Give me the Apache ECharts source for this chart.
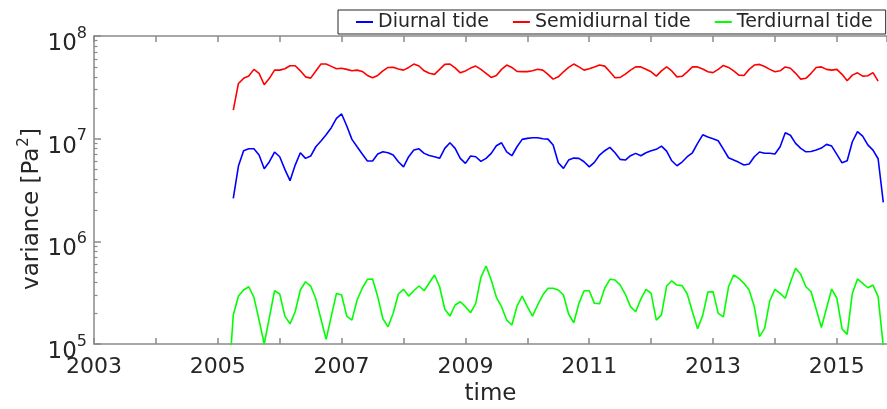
<!DOCTYPE html>
<html>
<head>
<meta charset="utf-8">
<script src="https://cdn.jsdelivr.net/npm/echarts@6/dist/echarts.min.js"></script>
<style>
  html, body { margin: 0; padding: 0; background: #ffffff; }
  #chart { width: 887px; height: 409px; }
</style>
</head>
<body>
<div id="chart"></div>
<script>
// Monthly tidal variance (Pa^2), one value per month.
const seriesNames = ['Diurnal tide', 'Semidiurnal tide', 'Terdiurnal tide'];
const startYear = 2005;
const diurnalStartMonth = 4;      // April 2005
const semidiurnalStartMonth = 4;  // April 2005
const terdiurnalStartMonth = 3;   // March 2005

const diurnal = [
  2.62e6, 5.41e6, 7.63e6, 7.97e6, 7.97e6, 6.92e6, 5.09e6, 5.96e6, 7.41e6, 6.67e6,
  5.02e6, 3.9e6, 5.53e6, 7.29e6, 6.43e6, 6.77e6, 8.34e6, 9.48e6, 1.09e7, 1.28e7,
  1.58e7, 1.74e7, 1.33e7, 9.84e6, 8.34e6, 7.08e6, 6.05e6, 6.05e6, 7.08e6, 7.45e6,
  7.29e6, 6.92e6, 5.96e6, 5.32e6, 6.67e6, 7.74e6, 7.97e6, 7.19e6, 6.85e6, 6.67e6,
  6.43e6, 8.05e6, 9.12e6, 8.05e6, 6.43e6, 5.75e6, 6.77e6, 6.67e6, 6.01e6, 6.43e6,
  7.19e6, 8.53e6, 9.12e6, 7.45e6, 6.82e6, 8.34e6, 9.84e6, 1.007e7, 1.02e7, 1.02e7,
  9.98e6, 9.9e6, 8.66e6, 5.82e6, 5.14e6, 6.19e6, 6.47e6, 6.43e6, 5.96e6, 5.32e6,
  5.88e6, 6.92e6, 7.63e6, 8.23e6, 7.29e6, 6.28e6, 6.19e6, 6.82e6, 7.19e6, 6.82e6,
  7.3e6, 7.63e6, 7.87e6, 8.47e6, 7.57e6, 6.09e6, 5.45e6, 5.92e6, 6.67e6, 7.29e6,
  9.0e6, 1.09e7, 1.04e7, 9.98e6, 9.54e6, 7.92e6, 6.52e6, 6.19e6, 5.88e6, 5.53e6,
  5.66e6, 6.67e6, 7.41e6, 7.2e6, 7.2e6, 7.08e6, 8.34e6, 1.14e7, 1.08e7, 9.0e6,
  8.05e6, 7.45e6, 7.5e6, 7.74e6, 8.1e6, 8.8e6, 8.47e6, 7.03e6, 5.82e6, 6.09e6,
  9.33e6, 1.17e7, 1.06e7, 8.7e6, 7.74e6, 6.37e6, 2.4e6
];

const semidiurnal = [
  1.9e7, 3.45e7, 3.87e7, 4.07e7, 4.73e7, 4.33e7, 3.35e7, 3.87e7, 4.65e7, 4.65e7,
  4.8e7, 5.13e7, 5.13e7, 4.58e7, 4.0e7, 3.89e7, 4.57e7, 5.33e7, 5.33e7, 5.06e7,
  4.8e7, 4.85e7, 4.73e7, 4.58e7, 4.65e7, 4.52e7, 4.13e7, 3.92e7, 4.13e7, 4.57e7,
  4.94e7, 4.97e7, 4.77e7, 4.65e7, 4.94e7, 5.33e7, 5.1e7, 4.58e7, 4.33e7, 4.23e7,
  4.73e7, 5.29e7, 5.33e7, 4.9e7, 4.38e7, 4.57e7, 4.87e7, 5.09e7, 4.73e7, 4.33e7,
  3.95e7, 4.13e7, 4.73e7, 5.21e7, 4.94e7, 4.52e7, 4.5e7, 4.5e7, 4.58e7, 4.75e7,
  4.65e7, 4.23e7, 3.8e7, 4.0e7, 4.48e7, 4.94e7, 5.33e7, 5.0e7, 4.65e7, 4.8e7,
  5.0e7, 5.21e7, 5.09e7, 4.48e7, 3.92e7, 3.95e7, 4.26e7, 4.65e7, 5.0e7, 5.0e7,
  4.75e7, 4.48e7, 4.07e7, 4.58e7, 5.0e7, 4.57e7, 4.0e7, 4.05e7, 4.48e7, 5.0e7,
  5.0e7, 4.77e7, 4.48e7, 4.4e7, 4.73e7, 5.17e7, 4.94e7, 4.57e7, 4.16e7, 4.13e7,
  4.73e7, 5.21e7, 5.29e7, 5.05e7, 4.73e7, 4.48e7, 4.58e7, 5.0e7, 4.85e7, 4.33e7,
  3.8e7, 3.87e7, 4.33e7, 4.94e7, 5.0e7, 4.73e7, 4.65e7, 4.73e7, 4.23e7, 3.66e7,
  4.16e7, 4.38e7, 4.07e7, 4.1e7, 4.4e7, 3.64e7
];

const terdiurnal = [
  3.5e4,
  1.92e5, 2.93e5, 3.36e5, 3.61e5, 2.85e5, 1.71e5, 1.0e5, 1.82e5, 3.3e5, 3.07e5,
  1.87e5, 1.57e5, 2.06e5, 3.36e5, 4.04e5, 3.67e5, 2.76e5, 1.74e5, 1.11e5, 1.87e5,
  3.11e5, 3.0e5, 1.87e5, 1.71e5, 2.68e5, 3.49e5, 4.27e5, 4.3e5, 2.89e5, 1.76e5,
  1.47e5, 1.99e5, 3.07e5, 3.41e5, 2.93e5, 3.3e5, 3.67e5, 3.3e5, 3.95e5, 4.7e5,
  3.61e5, 2.18e5, 1.87e5, 2.4e5, 2.58e5, 2.31e5, 2.02e5, 2.49e5, 4.46e5, 5.75e5,
  4.2e5, 2.85e5, 2.31e5, 1.71e5, 1.53e5, 2.34e5, 2.93e5, 2.31e5, 1.87e5, 2.4e5,
  3.0e5, 3.49e5, 3.49e5, 3.36e5, 3.0e5, 1.96e5, 1.61e5, 2.49e5, 3.3e5, 3.3e5,
  2.49e5, 2.47e5, 3.49e5, 4.27e5, 4.2e5, 3.75e5, 3.05e5, 2.31e5, 2.06e5, 2.74e5,
  3.41e5, 3.11e5, 1.71e5, 1.92e5, 3.67e5, 4.13e5, 3.75e5, 3.7e5, 3.07e5, 2.06e5,
  1.41e5, 1.9e5, 3.21e5, 3.24e5, 1.99e5, 1.84e5, 3.61e5, 4.7e5, 4.36e5, 3.9e5,
  3.36e5, 2.31e5, 1.18e5, 1.42e5, 2.64e5, 3.41e5, 3.11e5, 2.79e5, 3.99e5, 5.46e5,
  4.77e5, 3.61e5, 3.23e5, 2.18e5, 1.45e5, 2.23e5, 3.43e5, 2.79e5, 1.41e5, 1.24e5,
  3.11e5, 4.3e5, 3.9e5, 3.53e5, 3.75e5, 2.89e5, 9.5e4
];

// Axis ranges and tick values
const xMin = 2003;
const xMax = 2015.81;
const yMin = 1e5;
const yMax = 1e8;
const yDecadeMin = 5;
const yDecadeMax = 8;
// minor ticks at 2..9 x 10^n, expressed as exponents for the tick-only axis
const yMinorTickExponents = [];
for (let e = yDecadeMin; e < yDecadeMax; e++) {
  for (let m = 2; m <= 9; m++) yMinorTickExponents.push(e + Math.log10(m));
}

const lineColors = ['#0000ff', '#ff0000', '#00ff00'];
const axisGrey = '#8a8a8a';
const textDark = '#262626';
const fontFamily = 'DejaVu Sans';

// Monthly values -> [decimal year, value] pairs
function monthly(startMonth, values) {
  return values.map((v, i) => [startYear + (startMonth - 1 + i) / 12, v]);
}

const chart = echarts.init(document.getElementById('chart'), null, { renderer: 'canvas' });

const isOddYear = v => Math.abs(v - Math.round(v)) < 1e-6 && Math.round(v) % 2 === 1;

chart.setOption({
  animation: false,
  backgroundColor: '#ffffff',
  textStyle: { fontFamily: fontFamily },
  grid: {
    left: 94, top: 36, right: 0, bottom: 65,
    containLabel: false,
    outerBoundsMode: 'none'
  },
  legend: {
    data: seriesNames,
    left: 338,
    top: 10,
    icon: 'rect',
    itemWidth: 17,
    itemHeight: 2,
    itemGap: 24,
    padding: [2.5, 13, 2.5, 18],
    borderColor: textDark,
    borderWidth: 1,
    backgroundColor: '#ffffff',
    textStyle: { fontFamily: fontFamily, fontSize: 19, color: textDark }
  },
  xAxis: [
    {
      type: 'value',
      min: xMin,
      max: xMax,
      interval: 1,
      name: 'time',
      nameLocation: 'middle',
      nameGap: 36,
      nameTextStyle: { fontFamily: fontFamily, fontSize: 23, color: textDark },
      axisLine: { show: true, lineStyle: { color: axisGrey, width: 1.5 } },
      axisTick: { show: true, inside: true, length: 6, lineStyle: { color: axisGrey, width: 1.5 } },
      axisLabel: {
        show: true,
        margin: 12,
        fontFamily: fontFamily,
        fontSize: 22,
        color: textDark,
        showMaxLabel: false,
        formatter: v => (isOddYear(v) ? String(Math.round(v)) : '')
      },
      splitLine: { show: false }
    },
    {
      type: 'value',
      position: 'top',
      min: xMin,
      max: xMax,
      interval: 1,
      axisLine: { show: true, lineStyle: { color: axisGrey, width: 1.5 } },
      axisTick: { show: true, inside: true, length: 6, lineStyle: { color: axisGrey, width: 1.5 } },
      axisLabel: { show: false },
      splitLine: { show: false }
    }
  ],
  yAxis: [
    {
      type: 'log',
      logBase: 10,
      min: yMin,
      max: yMax,
      position: 'left',
      name: '{a|variance [Pa}{s|2}{a|]}',
      nameLocation: 'middle',
      nameGap: 50,
      nameMoveOverlap: false,
      nameTextStyle: {
        fontFamily: fontFamily,
        color: textDark,
        padding: [0, 38, 0, 0],
        rich: {
          a: { fontFamily: fontFamily, fontSize: 23, color: textDark, verticalAlign: 'bottom', lineHeight: 23 },
          s: { fontFamily: fontFamily, fontSize: 15, color: textDark, verticalAlign: 'bottom', lineHeight: 15, padding: [0, 0, 12, 1] }
        }
      },
      axisLine: { show: true, lineStyle: { color: axisGrey, width: 1.5 } },
      axisTick: { show: true, inside: true, length: 7, lineStyle: { color: axisGrey, width: 1.5 } },
      axisLabel: {
        show: true,
        margin: 7,
        padding: [16, 0, 0, 0],
        formatter: v => '{b|10}{s|' + Math.round(Math.log10(v)) + '}',
        rich: {
          b: { fontFamily: fontFamily, fontSize: 23, color: textDark, verticalAlign: 'bottom', lineHeight: 23 },
          s: { fontFamily: fontFamily, fontSize: 16, color: textDark, verticalAlign: 'bottom', lineHeight: 16, padding: [0, 0, 14, 0] }
        }
      },
      splitLine: { show: false }
    },
    {
      // tick-only axis in decade exponents, carrying the log minor ticks
      type: 'value',
      min: yDecadeMin,
      max: yDecadeMax,
      position: 'left',
      offset: 0,
      axisLine: { show: false },
      axisTick: {
        show: true,
        inside: true,
        length: 3.5,
        customValues: yMinorTickExponents,
        lineStyle: { color: axisGrey, width: 1.2 }
      },
      axisLabel: { show: false },
      splitLine: { show: false }
    }
  ],
  series: [
    {
      name: seriesNames[0],
      type: 'line',
      data: monthly(diurnalStartMonth, diurnal),
      symbol: 'none',
      clip: true,
      color: lineColors[0],
      lineStyle: { color: lineColors[0], width: 1.6 }
    },
    {
      name: seriesNames[1],
      type: 'line',
      data: monthly(semidiurnalStartMonth, semidiurnal),
      symbol: 'none',
      clip: true,
      color: lineColors[1],
      lineStyle: { color: lineColors[1], width: 1.6 }
    },
    {
      name: seriesNames[2],
      type: 'line',
      data: monthly(terdiurnalStartMonth, terdiurnal),
      symbol: 'none',
      clip: true,
      color: lineColors[2],
      lineStyle: { color: lineColors[2], width: 1.6 }
    }
  ]
});
</script>
</body>
</html>
